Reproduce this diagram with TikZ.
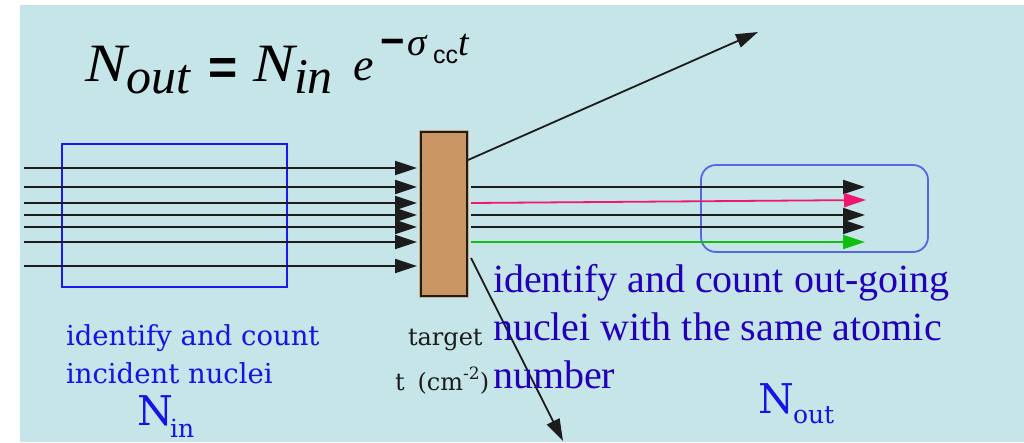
\documentclass[tikz,border=0pt]{standalone}
\usepackage{fontspec}
\setmainfont{Liberation Serif}
\newfontfamily\dvs{DejaVu Serif}
\newfontfamily\lsans{Liberation Sans}
\usetikzlibrary{arrows.meta}
\definecolor{bgc}{HTML}{C6E5E8}
\definecolor{ink}{HTML}{1C1C1C}
\definecolor{tblue}{HTML}{1414E6}
\definecolor{pblue}{HTML}{2200BB}
\definecolor{boxblue}{HTML}{1A1AEE}
\definecolor{rblue}{HTML}{5566E6}
\definecolor{tgt}{HTML}{C99563}
\definecolor{pinkc}{HTML}{F0186E}
\definecolor{greenc}{HTML}{10C010}
\newcommand{\fsz}[1]{\fontsize{#1}{#1}\selectfont}
\begin{document}
\begin{tikzpicture}[x=1pt,y=-1pt,
  every node/.style={inner sep=0pt,outer sep=0pt},
  txt/.style={anchor=base west},
  ray/.style={line width=1.8pt,draw=ink,-{Triangle[length=22pt,width=14pt]}},
  colray/.style={line width=1.8pt,-{Triangle[length=22pt,width=14pt]}}]
\useasboundingbox (0,0) rectangle (1024,442);
\fill[white] (0,0) rectangle (1024,442);
\fill[bgc] (20,5) rectangle (1024,442);

% formula
\node[txt,font={\fsz{54}\itshape}] (fN1) at (85,81) {\scalebox{1.15}[1]{N}};
\node[txt,font={\fsz{50}\itshape}] (fout) at (126,93) {out};
\node[txt,font={\fsz{50}\lsans\bfseries}] (feq) at (208,84) {=};
\node[txt,font={\fsz{54}\itshape}] (fN2) at (253,81) {\scalebox{1.15}[1]{N}};
\node[txt,font={\fsz{50}\itshape}] (fin) at (294,93) {in};
\node[txt,font={\fsz{46}\itshape}] (fe) at (353,80) {e};
\node[txt,font={\fsz{42}\lsans\bfseries}] (fminus) at (380,55) {−};
\node[txt,font={\fsz{39}\itshape}] (fsig) at (407,55) {σ};
\node[txt,font={\fsz{25}\lsans}] (fcc) at (433,63) {cc};
\node[txt,font={\fsz{38}\itshape}] (ft) at (458,55) {t};

% blue frames
\node[draw=boxblue,line width=1.8pt,minimum width=225pt,minimum height=143pt] (inbox) at (174.5,215.5) {};
\node[draw=rblue,line width=1.8pt,rounded corners=15pt,minimum width=227pt,minimum height=87pt] (outbox) at (814.5,208.5) {};

% target
\node[draw=ink,line width=1.4pt,fill=tgt,minimum width=46pt,minimum height=164pt,
      preaction={draw=tgt!80!white,line width=4pt}] (target) at (444,214) {};

% incoming rays
\foreach \y/\n in {168/a,187/b,203/c,215/d,227/e,242/f,266/g}{
  \coordinate (in\n) at (24,\y);
  \coordinate (hit\n) at (417,\y);
  \draw[ray] (in\n) -- (hit\n);
}

% outgoing rays
\coordinate (o1s) at (471,187); \coordinate (o1e) at (865,187);
\coordinate (o2s) at (471,203); \coordinate (o2e) at (866,200);
\coordinate (o3s) at (471,215); \coordinate (o3e) at (865,215);
\coordinate (o4s) at (471,227); \coordinate (o4e) at (865,227);
\coordinate (o5s) at (471,242); \coordinate (o5e) at (865,242);
\draw[ray] (o1s) -- (o1e);
\draw[colray,draw=pinkc,fill=pinkc] (o2s) -- (o2e);
\draw[ray] (o3s) -- (o3e);
\draw[ray] (o4s) -- (o4e);
\draw[colray,draw=greenc,fill=greenc] (o5s) -- (o5e);

% scattered rays
\coordinate (us) at (468,160); \coordinate (ue) at (758,32);
\coordinate (ds) at (471,258); \coordinate (de) at (563,441);
\draw[ray] (us) -- (ue);
\draw[ray] (ds) -- (de);

% labels
\node[txt,font={\fsz{27.5}\dvs},text=tblue] (l1) at (66,345) {identify and count};
\node[txt,font={\fsz{27.5}\dvs},text=tblue] (l2) at (66,383) {incident nuclei};
\node[txt,font={\fsz{41}\dvs},text=tblue] (NinN) at (137,425) {N};
\node[txt,font={\fsz{25}\dvs},text=tblue] (Ninsub) at (170,437) {in};

\node[txt,font={\fsz{24}\dvs},text=ink] (tl1) at (408,345) {target};
\node[txt,font={\fsz{24}\dvs},text=ink] (tl2) at (395,390) {t\hspace{13pt}(cm\raisebox{11pt}{\fsz{17}-2})};

\node[txt,font={\fsz{41}\dvs},text=tblue] (NoutN) at (758,413) {N};
\node[txt,font={\fsz{25}\dvs},text=tblue] (Noutsub) at (793,423) {out};

\node[txt,font={\fsz{40}},text=pblue] (p1) at (493,292) {identify and count out-going};
\node[txt,font={\fsz{40}},text=pblue] (p2) at (493,340) {nuclei with the same atomic};
\node[txt,font={\fsz{40}},text=pblue] (p3) at (493,388) {number};
\end{tikzpicture}
\end{document}
